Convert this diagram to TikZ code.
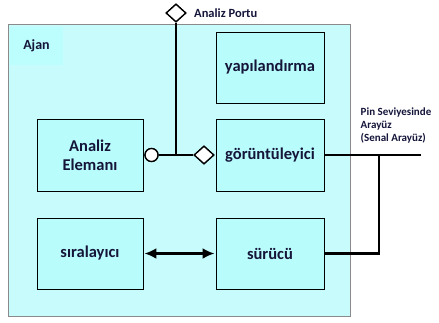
\documentclass[tikz,border=0pt]{standalone}
\usepackage{fontspec}
\setmainfont{Carlito}
\usetikzlibrary{shapes.geometric,arrows.meta}
\definecolor{agentfill}{HTML}{C8FCFC}
\definecolor{blockfill}{HTML}{B8FCFC}
\definecolor{labelfill}{HTML}{BCFEFE}
\definecolor{ink}{HTML}{15153A}
\definecolor{frame}{HTML}{8A8A8A}

\begin{document}
\begin{tikzpicture}[x=1pt,y=-1pt,
  agentbox/.style={draw=frame, line width=1pt, fill=agentfill, minimum width=342pt, minimum height=292pt, inner sep=0pt},
  block/.style={draw=black, line width=0.9pt, fill=blockfill, minimum height=71pt, inner sep=0pt, align=center,
                font=\bfseries\fontsize{16.5}{19}\selectfont, text=ink},
  wire/.style={line width=2.8pt, line join=miter},
  portdiamond/.style={diamond, draw=black, line width=1.3pt, fill=white, minimum width=20pt, minimum height=18pt, inner sep=0pt},
  portcircle/.style={circle, draw=black, line width=1.3pt, fill=white, minimum size=13pt, inner sep=0pt},
  smalltext/.style={font=\bfseries\fontsize{11}{13}\selectfont, text=ink, inner sep=0pt, align=left},
  linkarrow/.style={line width=2.6pt, {Latex[length=12pt,width=11pt]}-{Latex[length=12pt,width=11pt]}, shorten <=1pt, shorten >=1pt}
]
\useasboundingbox (0,0) rectangle (439,322);

% agent frame and its title
\node[agentbox] (agent) at (179,170) {};
\node[fill=labelfill, minimum width=53pt, minimum height=38pt, inner sep=0pt,
      font=\bfseries\fontsize{14}{16}\selectfont, text=ink] (agentlabel) at (36.5,46) {Ajan};

% inner blocks
\node[block, minimum width=108pt] (config) at (270,67.5) {yapılandırma};
\node[block, minimum width=108pt, minimum height=72pt] (monitor) at (270,155) {görüntüleyici};
\node[block, minimum width=106pt, minimum height=72pt] (analysis) at (90,155) {Analiz\\Elemanı};
\node[block, minimum width=106pt] (sequencer) at (90,253.5) {sıralayıcı};
\node[block, minimum width=108pt] (driver) at (270,253.5) {sürücü};

% analysis port connections
\coordinate (junction) at (176,155);
\node[portdiamond] (toport) at (176,13) {};
\node[portcircle] (export) at (151.5,155) {};
\node[portdiamond] (monport) at (204,155) {};
\draw[wire] (toport.south) -- (junction);
\draw[wire] (export.east) -- (monport.west);
\node[portdiamond] at (toport) {};
\node[portcircle] at (export) {};
\node[portdiamond] at (monport) {};
\node[smalltext, font=\bfseries\fontsize{12.5}{14}\selectfont, anchor=west] (portlabel) at (194,13) {Analiz Portu};

% pin-level interface
\coordinate (pinend) at (421,155);
\coordinate (tap) at (379,155);
\draw[wire] (monitor.east) -- (pinend);
\draw[wire] (tap) |- (driver.east);
\node[smalltext, anchor=north west] (pinlabel) at (360.5,108) {Pin Seviyesinde\\Arayüz\\(Senal Arayüz)};

% sequencer <-> driver
\draw[linkarrow] (sequencer.east) -- (driver.west);
\end{tikzpicture}
\end{document}
